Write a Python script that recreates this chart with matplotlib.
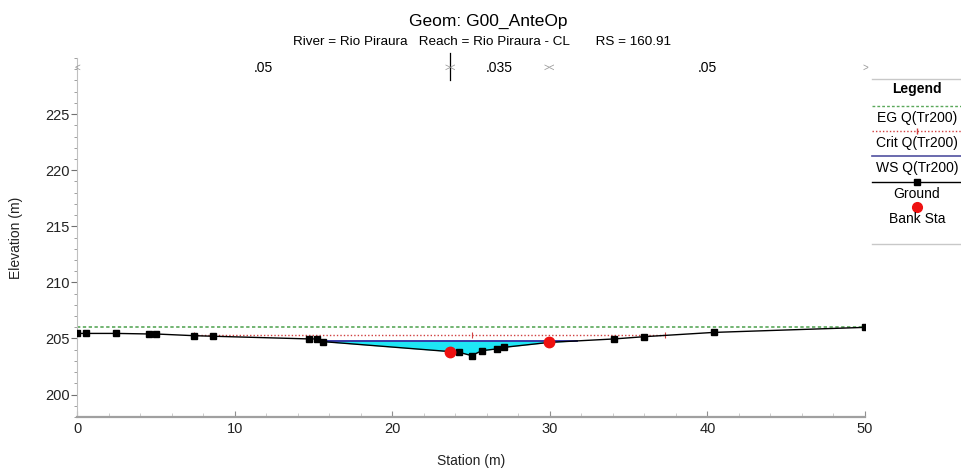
import matplotlib
matplotlib.use("Agg")
import matplotlib.pyplot as plt
from matplotlib.lines import Line2D
from matplotlib.ticker import MultipleLocator
import numpy as np

plt.rcParams['font.family'] = ['Liberation Sans', 'DejaVu Sans']

# cross section geometry (station m, elevation m)
ground_sta = [0.0, 0.6, 2.5, 4.6, 5.0, 7.4, 8.6, 14.7, 15.2, 15.6, 23.67, 24.26,
              25.04, 25.68, 26.63, 27.09, 29.97, 34.1, 36.0, 40.4, 50.0]
ground_elev = [205.45, 205.45, 205.45, 205.4, 205.4, 205.25, 205.2, 204.96, 204.96,
               204.72, 203.83, 203.76, 203.47, 203.91, 204.07, 204.21, 204.65,
               204.96, 205.16, 205.54, 205.99]
bank_sta = [23.67, 29.97]
bank_elev = [203.83, 204.65]

# profile results Q(Tr200)
eg_elev = 206.0
eg_sta = [0.0, 50.0]
crit_elev = 205.3
crit_sta = [7.4, 25.04, 37.3]
ws_elev = 204.78
ws_sta = [15.5, 31.7]

# Manning n by subsection
n_values = ['.05', '.035', '.05']
n_edges = [0.0, 23.67, 29.97, 50.0]

fig = plt.figure(figsize=(9.61, 4.68), dpi=100)
ax = fig.add_axes([77 / 961, 51 / 468, 788 / 961, 359 / 468])

gx = np.array(ground_sta)
gy = np.array(ground_elev)

# water area
ax.fill_between(gx, gy, ws_elev, where=gy <= ws_elev, interpolate=True,
                color='#1ee6f5', lw=0, zorder=1)
ax.plot(ws_sta, [ws_elev] * 2, color='#2a2aa0', lw=1.3, zorder=3)
ax.plot(crit_sta, [crit_elev] * len(crit_sta), color='#d04040', lw=1, ls=(0, (1, 1.5)),
        marker='|', ms=5, mew=0.8, zorder=2)
ax.plot(eg_sta, [eg_elev] * 2, color='#5aa85a', lw=1.2, ls=(0, (2, 1.5)), zorder=2)
ax.plot(gx, gy, color='black', lw=1, marker='s', ms=4.5, zorder=4)
ax.plot(bank_sta, bank_elev, 'o', color='#ee1111', ms=7.5, zorder=5)

ax.set_xlim(0, 50)
ax.set_ylim(198, 230)

# roughness labels along the top
trans = ax.get_xaxis_transform()
for i, n in enumerate(n_values):
    mid = (n_edges[i] + n_edges[i + 1]) / 2
    ax.text(mid, 0.972, n, transform=trans, ha='center', va='center', fontsize=10)
marks = ['<'] + ['><'] * (len(n_edges) - 2) + ['>']
for s, m in zip(n_edges, marks):
    ax.text(s, 0.972, m, transform=trans, ha='center', va='center', fontsize=7,
            color='#999999')
ax.plot([bank_sta[0], bank_sta[0]], [0.939, 1.014], transform=trans, color='black',
        lw=0.9, clip_on=False)

# axes styling
for side in ['top', 'right']:
    ax.spines[side].set_visible(False)
ax.spines['left'].set_color('#c0c0c0')
ax.spines['bottom'].set_color('#a0a0a0')
ax.spines['bottom'].set_linewidth(1.6)
ax.xaxis.set_major_locator(MultipleLocator(10))
ax.xaxis.set_minor_locator(MultipleLocator(2))
ax.yaxis.set_minor_locator(MultipleLocator(1))
ax.set_yticks([200, 205, 210, 215, 220, 225])
ax.tick_params(axis='x', which='major', direction='in', length=4, colors='#909090',
               labelcolor='#222222', labelsize=10.5)
ax.tick_params(axis='x', which='minor', direction='in', length=3, colors='#c4c4c4')
ax.tick_params(axis='y', which='major', direction='out', length=4, pad=1, colors='#707070',
               labelcolor='#222222', labelsize=10.5)
ax.tick_params(axis='y', which='minor', direction='out', length=2.5, colors='#909090')
ax.set_xlabel('Station (m)', fontsize=10, labelpad=13, color='#222222')
ax.set_ylabel('Elevation (m)', fontsize=10, labelpad=16, color='#222222')

fig.text(488 / 961, 1 - 21 / 468, 'Geom: G00_AnteOp', ha='center', va='center',
         fontsize=12.5)
fig.text(482 / 961, 1 - 42 / 468,
         'River = Rio Piraura   Reach = Rio Piraura - CL       RS = 160.91',
         ha='center', va='center', fontsize=9.7)

# legend panel on the right
lx0, lx1 = 872 / 961, 1.0
lxc = 917 / 961


def fy(py):
    return 1 - py / 468


fig.add_artist(Line2D([lx0, lx1], [fy(79), fy(79)], color='#c8c8c8', lw=1))
fig.add_artist(Line2D([lx0, lx1], [fy(244), fy(244)], color='#c8c8c8', lw=1))
fig.text(lxc, fy(89), 'Legend', ha='center', va='center', fontsize=10, fontweight='bold')

# (label, line y, text y, line style)
entries = [
    ('EG Q(Tr200)', 106, 118, dict(color='#5aa85a', lw=1, ls=(0, (2, 1.5)))),
    ('Crit Q(Tr200)', 131, 143, dict(color='#d04040', lw=1, ls=(0, (1, 1.5)),
                                     marker='|', ms=4, markevery=[1])),
    ('WS Q(Tr200)', 156, 168, dict(color='#5050a0', lw=1.2)),
    ('Ground', 182, 194, dict(color='black', lw=1, marker='s', ms=4, markevery=[1])),
]
for label, yl, yt, kw in entries:
    fig.add_artist(Line2D([lx0, lxc, lx1], [fy(yl)] * 3, **kw))
    fig.text(lxc, fy(yt), label, ha='center', va='center', fontsize=10)
fig.add_artist(Line2D([lxc], [fy(207)], marker='o', color='#ee1111', ms=7, lw=0))
fig.text(lxc, fy(219), 'Bank Sta', ha='center', va='center', fontsize=10)

fig.savefig('out.png', dpi=100)
